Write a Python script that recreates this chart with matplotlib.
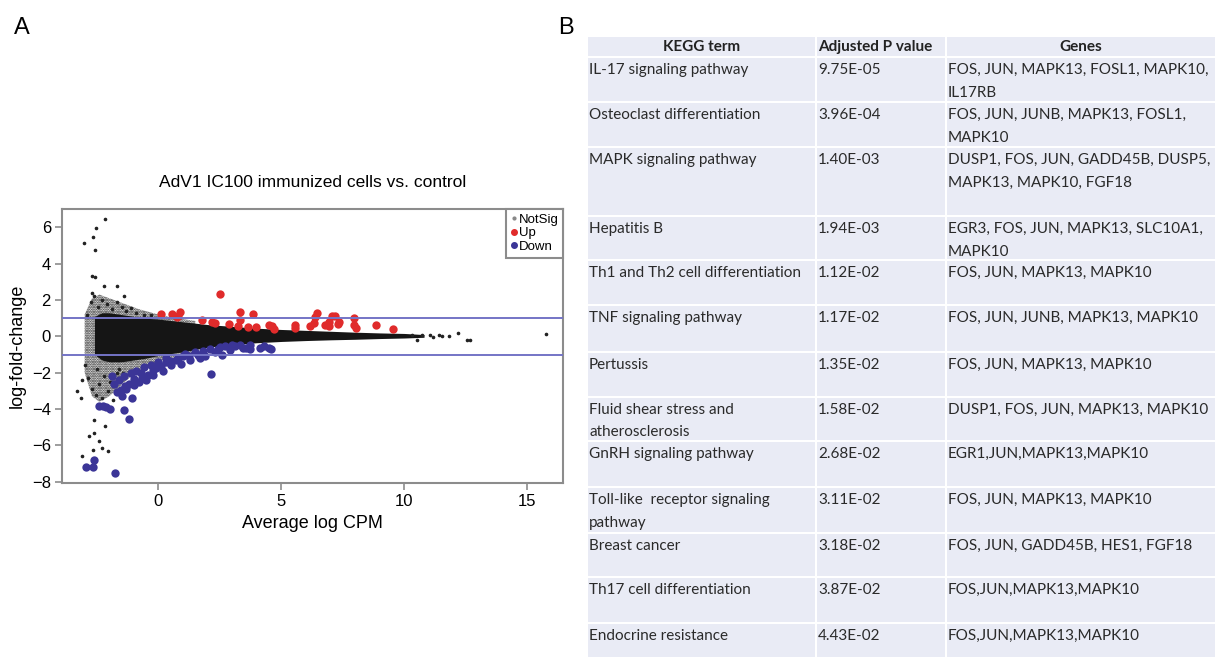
import numpy as np
import matplotlib.pyplot as plt
from matplotlib.patches import Rectangle
from matplotlib.lines import Line2D

plt.rcParams['font.family'] = ['Liberation Sans', 'DejaVu Sans']
plt.rcParams['hatch.linewidth'] = 1.2

# ---------------- panel A: MA plot ----------------
# dense NotSig cloud: upper / lower edge of the solid core
core_a  = [-2.6, -2.3, -2.0, -1.5, -1.0, -0.5, 0.0, 1.0, 2.0, 3.0, 4.0, 5.0,
           6.0, 7.0, 8.0, 9.0, 10.0, 10.8]
core_hi = [1.1, 1.3, 1.3, 1.2, 1.1, 1.0, 0.95, 0.8, 0.65, 0.55, 0.45, 0.38,
           0.33, 0.28, 0.23, 0.19, 0.16, 0.10]
core_lo = [-1.0, -1.3, -1.4, -1.4, -1.3, -1.2, -1.05, -0.85, -0.6, -0.45, -0.35,
           -0.28, -0.23, -0.19, -0.16, -0.12, -0.09, -0.05]

# sparser fringe of the cloud at low expression
fringe_a  = [-3.0, -2.7, -2.4, -2.0, -1.6, -1.2, -0.8, -0.4, 0.0, 0.5, 1.0, 1.5]
fringe_hi = [1.2, 2.1, 2.3, 2.1, 1.9, 1.7, 1.5, 1.35, 1.2, 1.05, 0.95, 0.85]
fringe_lo = [-2.0, -3.3, -3.6, -3.3, -2.8, -2.3, -1.9, -1.6, -1.4, -1.2, -1.0, -0.9]

# scattered NotSig genes outside the cloud
ns_a = [-2.19, -2.52, -3.02, -2.65, -2.58, -2.70, -2.58, -2.22, -1.68, -2.70, -1.41,
        -3.16, -2.62, -2.62, -2.19, -2.41, -2.29, -3.10, -2.67, -2.04, -2.84,
        -2.9, -2.75, -2.6, -2.45, -2.3, -2.1, -1.9, -1.7, -1.5, -1.3, -1.1, -0.9,
        -0.6, -0.3, -3.0, -2.85, -2.7, -2.55, -2.4, -2.3, -2.2, -2.05, -1.95,
        -1.85, -1.7, -1.6, -1.45, -2.5, -3.3, -3.1,
        10.3, 10.5, 10.7, 11.05, 11.15, 11.4, 11.55, 11.8, 12.2, 12.55, 12.65, 15.74]
ns_m = [6.45, 5.95, 5.16, 5.46, 4.76, 3.33, 3.26, 2.78, 2.78, 2.38, 2.23,
        -3.39, -4.58, -5.31, -4.95, -5.77, -6.14, -6.59, -6.23, -6.32, -5.49,
        1.2, 1.9, 2.2, 1.6, 2.0, 1.8, 1.5, 1.9, 1.6, 1.4, 1.55, 1.3,
        1.2, 1.15, -1.6, -2.3, -2.9, -3.2, -2.6, -3.4, -2.2, -3.0, -2.5,
        -3.5, -2.0, -1.8, -2.0, -1.8, -3.0, -2.4,
        0.05, -0.2, 0.1, 0.1, -0.02, 0.05, 0.04, 0.02, 0.18, -0.18, -0.18, 0.12]

up_a = [2.51, 0.10, 0.55, 0.80, 0.87, 0.76, 1.79, 2.16, 2.30, 2.89, 3.32, 3.32,
        3.86, 3.25, 3.64, 3.98, 4.49, 4.62, 4.71, 5.54, 5.57, 6.17, 6.34, 6.46,
        6.37, 6.78, 6.92, 7.07, 7.19, 6.95, 7.29, 7.33, 7.97, 7.94, 8.02, 8.86, 9.52]
up_m = [2.33, 1.25, 1.25, 1.14, 1.32, 1.04, 0.92, 0.77, 0.73, 0.68, 1.32, 0.92,
        1.25, 0.55, 0.51, 0.51, 0.64, 0.55, 0.40, 0.46, 0.64, 0.55, 0.73, 1.28,
        1.04, 0.64, 0.77, 1.10, 1.14, 0.55, 0.68, 0.79, 1.01, 0.64, 0.46, 0.64, 0.40]

down_a = [-2.94, -2.67, -2.62, -1.78, -2.41, -2.26, -2.14, -1.97, -1.41, -1.21, -1.09,
          -1.68, -1.53, -1.36, -1.20, -0.98, -0.80, -0.66, -0.44, -0.22, -0.10, 0.10,
          0.29, 0.48, 0.80, 1.02, 1.24, 1.60, 1.82, 2.11, 2.41, 2.58, 2.70, 2.99,
          3.43, 3.72, 4.15, 4.59, 4.30, 3.72, 3.13, 2.14,
          -1.9, -1.8, -1.6, -1.5, -1.4, -1.3, -1.1, -1.0, -0.9, -0.7, -0.6, -0.5,
          -0.3, -0.2, 0.0, 0.2, 0.3, 0.5, 0.7, 0.9, 1.1, 1.3, 1.5, 1.7, 1.9, 2.3,
          2.5, 2.9, 3.3, 3.55, 4.5]
down_m = [-7.18, -7.18, -6.83, -7.51, -3.81, -3.81, -3.88, -3.99, -4.07, -4.54, -3.39,
          -3.06, -2.93, -2.75, -2.60, -2.34, -2.53, -2.29, -2.11, -1.83, -1.74, -1.65,
          -1.43, -1.37, -1.19, -1.10, -1.06, -1.01, -0.82, -0.70, -0.70, -1.01, -0.55,
          -0.46, -0.64, -0.70, -0.64, -0.70, -0.55, -0.46, -0.55, -2.07,
          -2.2, -2.6, -2.4, -3.3, -2.2, -2.9, -2.0, -2.7, -1.9, -2.0, -1.7, -2.4,
          -1.6, -2.1, -1.4, -1.9, -1.2, -1.6, -1.3, -1.5, -0.95, -1.3, -0.85, -1.2,
          -1.1, -0.85, -0.6, -0.75, -0.45, -0.65, -0.62]

# ---------------- panel B: KEGG enrichment table ----------------
kegg_terms = ['IL-17 signaling pathway', 'Osteoclast differentiation',
              'MAPK signaling pathway', 'Hepatitis B',
              'Th1 and Th2 cell differentiation', 'TNF signaling pathway',
              'Pertussis', 'Fluid shear stress and\natherosclerosis',
              'GnRH signaling pathway', 'Toll-like  receptor signaling\npathway',
              'Breast cancer', 'Th17 cell differentiation', 'Endocrine resistance']
adj_p = ['9.75E-05', '3.96E-04', '1.40E-03', '1.94E-03', '1.12E-02', '1.17E-02',
         '1.35E-02', '1.58E-02', '2.68E-02', '3.11E-02', '3.18E-02', '3.87E-02',
         '4.43E-02']
genes = ['FOS, JUN, MAPK13, FOSL1, MAPK10,\nIL17RB',
         'FOS, JUN, JUNB, MAPK13, FOSL1,\nMAPK10',
         'DUSP1, FOS, JUN, GADD45B, DUSP5,\nMAPK13, MAPK10, FGF18',
         'EGR3, FOS, JUN, MAPK13, SLC10A1,\nMAPK10',
         'FOS, JUN, MAPK13, MAPK10',
         'FOS, JUN, JUNB, MAPK13, MAPK10',
         'FOS, JUN, MAPK13, MAPK10',
         'DUSP1, FOS, JUN, MAPK13, MAPK10',
         'EGR1,JUN,MAPK13,MAPK10',
         'FOS, JUN, MAPK13, MAPK10',
         'FOS, JUN, GADD45B, HES1, FGF18',
         'FOS,JUN,MAPK13,MAPK10',
         'FOS,JUN,MAPK13,MAPK10']
headers = ['KEGG term', 'Adjusted P value', 'Genes']

W, H = 1220, 660
fig = plt.figure(figsize=(W / 100, H / 100), dpi=100)

# ---- panel A ----
ax = fig.add_axes([62 / W, 1 - 483 / H, 501 / W, 274 / H])
ax.fill_between(fringe_a, fringe_lo, fringe_hi, facecolor='none', edgecolor='#1e1e1e',
                hatch='.......', linewidth=0, zorder=1)
ax.fill_between(core_a, core_lo, core_hi, color='#151515', linewidth=0, zorder=2)
ax.plot(ns_a, ns_m, ls='', marker='o', ms=1.6, color='#222222', zorder=3)
ax.plot(down_a, down_m, ls='', marker='o', ms=6, color='#3b3597', mec='none', zorder=4)
ax.plot(up_a, up_m, ls='', marker='o', ms=6, color='#e02b2b', mec='none', zorder=4)
for h in (1, -1):
    ax.axhline(h, color='#7474c6', lw=1.4, zorder=5)

ax.set_xlim(-3.92, 16.45)
ax.set_ylim(-8.07, 7.01)
ax.set_xticks([0, 5, 10, 15])
ax.set_yticks(np.arange(-8, 7, 2))
ax.tick_params(direction='out', length=5, width=1.2, color='#8c8c8c',
               labelsize=12, pad=3)
for s in ax.spines.values():
    s.set_color('#8c8c8c')
    s.set_linewidth(1.5)
ax.set_xlabel('Average log CPM', fontsize=13, labelpad=4)
ax.set_ylabel('log-fold-change', fontsize=13, labelpad=4)
ax.set_title('AdV1 IC100 immunized cells vs. control', fontsize=12.5, pad=16)

handles = [Line2D([], [], ls='', marker='o', ms=2, color='#888888'),
           Line2D([], [], ls='', marker='o', ms=4, color='#e02b2b'),
           Line2D([], [], ls='', marker='o', ms=4, color='#3b3597')]
leg = ax.legend(handles, ['NotSig', 'Up', 'Down'], loc='upper right', fontsize=9.5,
                handlelength=0.5, handletextpad=0.1, borderpad=0.35,
                labelspacing=0.1, borderaxespad=0, fancybox=False,
                edgecolor='#8c8c8c', framealpha=1)
leg.get_frame().set_linewidth(1.5)

# ---- panel B: table drawn in pixel space ----
tb = fig.add_axes([0, 0, 1, 1])
tb.set_xlim(0, W)
tb.set_ylim(H, 0)
tb.axis('off')

row_edges = [36, 57.3, 101.7, 146.7, 216, 260, 305, 351.7, 396.7, 440.7, 486.7,
             532.7, 576.7, 622.7, 658]
col_edges = [587, 816, 946, 1216]
cell_fc = '#e9ebf5'
tfont = ['Lato', 'DejaVu Sans']
fs = 11

for r in range(len(row_edges) - 1):
    for c in range(3):
        x0, x1 = col_edges[c], col_edges[c + 1]
        y0, y1 = row_edges[r], row_edges[r + 1]
        tb.add_patch(Rectangle((x0 + 1, y0 + 1), x1 - x0 - 2, y1 - y0 - 2,
                               facecolor=cell_fc, edgecolor='none'))

# header
hy = (row_edges[0] + row_edges[1]) / 2 + 0.5
tb.text((col_edges[0] + col_edges[1]) / 2, hy, headers[0], ha='center', va='center',
        fontsize=fs, fontweight='bold', family=tfont, color='#222222')
tb.text(col_edges[1] + 2, hy, headers[1], ha='left', va='center',
        fontsize=fs, fontweight='bold', family=tfont, color='#222222')
tb.text((col_edges[2] + col_edges[3]) / 2, hy, headers[2], ha='center', va='center',
        fontsize=fs, fontweight='bold', family=tfont, color='#222222')

for i, (term, p, g) in enumerate(zip(kegg_terms, adj_p, genes)):
    top = row_edges[i + 1] + 6
    for c, txt in enumerate((term, p, g)):
        tb.text(col_edges[c] + 2, top, txt, ha='left', va='top', fontsize=fs,
                family=tfont, color='#2a2a2a', linespacing=1.8)

fig.text(14 / W, 1 - 28 / H, 'A', fontsize=17, va='center', ha='left')
fig.text(558 / W, 1 - 28 / H, 'B', fontsize=17, va='center', ha='left')

fig.savefig('out.png', dpi=100)
